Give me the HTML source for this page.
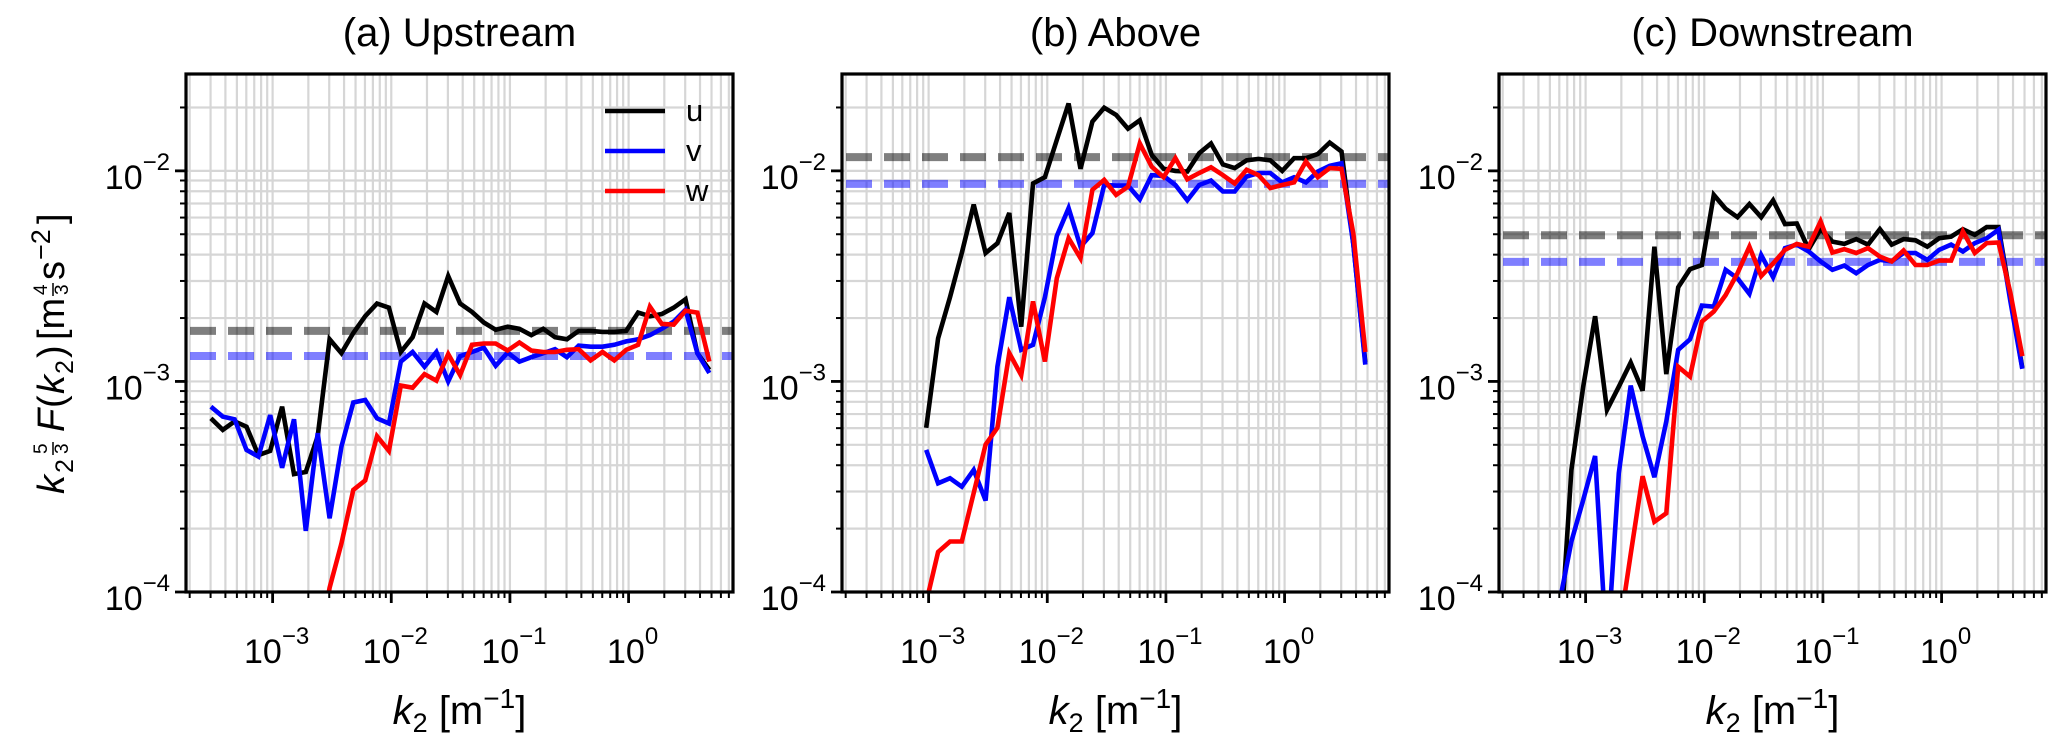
<!DOCTYPE html>
<html><head><meta charset="utf-8"><style>
html,body{margin:0;padding:0;background:#fff;}
svg{display:block;font-family:"Liberation Sans",Arial,sans-serif;}
</style></head><body>
<svg id="fig" width="2067" height="749" viewBox="0 0 2067 749" xmlns="http://www.w3.org/2000/svg">
<g transform="translate(64,334) rotate(-90)" font-size="38" fill="#000">
<text x="-160" y="0" font-style="italic">k</text>
<text x="-139" y="9" font-size="25">2</text>
<text x="-120" y="-17" font-size="19">5</text>
<line x1="-121" y1="-11" x2="-108" y2="-11" stroke="#000" stroke-width="1.5"/>
<text x="-120" y="4" font-size="19">3</text>
<text x="-98" y="0" font-style="italic">F</text>
<text x="-74" y="0">(</text>
<text x="-60" y="0" font-style="italic">k</text>
<text x="-40" y="9" font-size="25">2</text>
<text x="-24" y="0">)</text>
<text x="-6" y="0">[m</text>
<text x="39" y="-17" font-size="19">4</text>
<line x1="38" y1="-11" x2="51" y2="-11" stroke="#000" stroke-width="1.5"/>
<text x="39" y="4" font-size="19">3</text>
<text x="54" y="0">s</text>
<text x="74" y="-14" font-size="27">−2</text>
<text x="110" y="0">]</text>
</g>
</svg>
<script>
// wavenumber grid, log10(k2)
const kLog = [-3.52,-3.42,-3.32,-3.22,-3.12,-3.02,-2.92,-2.82,-2.72,-2.62,-2.52,-2.42,-2.32,-2.22,-2.12,-2.02,-1.92,-1.82,-1.72,-1.62,-1.52,-1.42,-1.32,-1.22,-1.12,-1.02,-0.92,-0.82,-0.72,-0.62,-0.52,-0.42,-0.32,-0.22,-0.12,-0.02,0.08,0.18,0.28,0.38,0.48,0.58,0.68];
// log10 of compensated spectra
const upU = [-3.175,-3.23,-3.19,-3.215,-3.35,-3.33,-3.12,-3.44,-3.43,-3.26,-2.80,-2.866,-2.77,-2.69,-2.63,-2.65,-2.86,-2.79,-2.63,-2.67,-2.50,-2.63,-2.67,-2.72,-2.755,-2.74,-2.75,-2.78,-2.75,-2.79,-2.80,-2.76,-2.76,-2.765,-2.765,-2.76,-2.673,-2.69,-2.68,-2.65,-2.61,-2.866,-2.945];
const upV = [-3.12,-3.167,-3.18,-3.325,-3.357,-3.16,-3.41,-3.18,-3.71,-3.246,-3.65,-3.31,-3.10,-3.088,-3.175,-3.20,-2.906,-2.86,-2.93,-2.86,-3.00,-2.88,-2.86,-2.84,-2.926,-2.863,-2.906,-2.885,-2.866,-2.847,-2.885,-2.83,-2.835,-2.835,-2.826,-2.81,-2.80,-2.78,-2.75,-2.716,-2.66,-2.866,-2.96];
const upW = [null,null,null,null,null,null,null,null,null,-4.3,-3.98,-3.77,-3.515,-3.47,-3.26,-3.33,-3.02,-3.03,-2.965,-2.996,-2.87,-2.97,-2.826,-2.82,-2.82,-2.853,-2.815,-2.853,-2.86,-2.86,-2.85,-2.847,-2.90,-2.86,-2.90,-2.85,-2.826,-2.645,-2.727,-2.73,-2.664,-2.673,-2.906];
const abU = [null,null,null,null,null,-3.22,-2.795,-2.60,-2.39,-2.16,-2.39,-2.344,-2.20,-2.74,-2.06,-2.03,-1.853,-1.68,-1.99,-1.766,-1.70,-1.734,-1.80,-1.76,-1.924,-1.99,-2.00,-2.003,-1.916,-1.87,-1.97,-1.987,-1.95,-1.943,-1.95,-2.00,-1.94,-1.94,-1.92,-1.866,-1.908,-2.35,-2.91];
const abV = [null,null,null,null,null,-3.325,-3.484,-3.46,-3.50,-3.42,-3.566,-2.93,-2.60,-2.85,-2.826,-2.60,-2.31,-2.177,-2.36,-2.296,-2.067,-2.07,-2.07,-2.135,-2.02,-2.024,-2.067,-2.14,-2.067,-2.046,-2.098,-2.098,-2.027,-2.01,-2.01,-2.055,-2.03,-2.055,-2.003,-1.976,-1.964,-2.35,-2.92];
const abW = [null,null,null,null,null,-4.05,-3.81,-3.76,-3.76,-3.53,-3.30,-3.22,-2.866,-2.97,-2.62,-2.906,-2.51,-2.32,-2.415,-2.09,-2.043,-2.114,-2.075,-1.87,-1.98,-2.03,-1.94,-2.04,-2.01,-1.983,-2.02,-2.06,-1.995,-2.02,-2.082,-2.067,-2.055,-1.956,-2.03,-1.987,-1.99,-2.3,-2.86];
const dnU = [null,null,null,-4.3,-3.42,-3.025,-2.69,-3.135,-3.025,-2.91,-3.044,-2.36,-2.965,-2.553,-2.467,-2.447,-2.114,-2.18,-2.22,-2.158,-2.22,-2.14,-2.253,-2.25,-2.372,-2.277,-2.336,-2.347,-2.324,-2.35,-2.277,-2.35,-2.324,-2.33,-2.36,-2.32,-2.312,-2.277,-2.304,-2.267,-2.267,-2.6,-2.936];
const dnV = [null,null,null,-4.05,-3.76,-3.563,-3.354,-4.3,-3.436,-3.02,-3.26,-3.455,-3.19,-2.85,-2.80,-2.64,-2.645,-2.47,-2.51,-2.584,-2.40,-2.505,-2.367,-2.35,-2.383,-2.43,-2.47,-2.45,-2.486,-2.447,-2.423,-2.43,-2.39,-2.39,-2.423,-2.375,-2.35,-2.383,-2.343,-2.32,-2.28,-2.62,-2.94];
const dnW = [null,null,null,null,null,null,null,null,-4.2,-3.82,-3.45,-3.666,-3.626,-2.93,-2.977,-2.716,-2.668,-2.59,-2.486,-2.36,-2.50,-2.44,-2.375,-2.347,-2.36,-2.24,-2.388,-2.372,-2.39,-2.367,-2.407,-2.43,-2.378,-2.447,-2.447,-2.426,-2.426,-2.288,-2.39,-2.343,-2.34,-2.58,-2.88];
// log10 of mean levels (dashed)
const refU = [-2.76,-1.935,-2.306];
const refV = [-2.879,-2.062,-2.432];
const titles = ["(a) Upstream","(b) Above","(c) Downstream"];
const xTickExp = [-3,-2,-1,0];
const yTickExp = [-4,-3,-2];

const NS="http://www.w3.org/2000/svg";
const svg=document.getElementById('fig');
const PL=[186,842,1499], PW=547, PT=74, PB=592;
const XMIN=-3.73, XMAX=0.88, YMIN=-4, YMAX=-1.54;
function mk(tag,attrs,parent){const e=document.createElementNS(NS,tag);for(const k in attrs)e.setAttribute(k,attrs[k]);(parent||svg).appendChild(e);return e;}
function xs(p,l){return PL[p]+(l-XMIN)/(XMAX-XMIN)*PW;}
function ys(l){return PB-(l-YMIN)/(YMAX-YMIN)*(PB-PT);}

const series=[[upU,upV,upW],[abU,abV,abW],[dnU,dnV,dnW]];
const colors=["#000000","#0000ff","#ff0000"];
const snames=["u","v","w"];
const pnames=["upstream","above","downstream"];

for(let p=0;p<3;p++){
  const g=mk('g',{});
  
  
  const cp=mk('clipPath',{id:'cp'+p},g);
  mk('rect',{x:PL[p],y:PT,width:PW,height:PB-PT},cp);
  const grid=mk('g',{stroke:'#d6d6d6','stroke-width':2.2},g);
  
  
  for(let d=-4;d<=0;d++)for(let m=1;m<10;m++){
    const l=d+Math.log10(m);
    if(l>XMIN&&l<XMAX){const x=xs(p,l);mk('line',{x1:x,x2:x,y1:PT,y2:PB},grid);}
  }
  for(let d=-4;d<=-2;d++)for(let m=1;m<10;m++){
    const l=d+Math.log10(m);
    if(l>YMIN&&l<YMAX){const y=ys(l);mk('line',{x1:PL[p],x2:PL[p]+PW,y1:y,y2:y},grid);}
  }
  const dg=mk('g',{'clip-path':'url(#cp'+p+')'},g);
  const d1=mk('line',{x1:PL[p]+4,x2:PL[p]+PW,y1:ys(refU[p]),y2:ys(refU[p]),stroke:'#000','stroke-opacity':0.5,'stroke-width':8,'stroke-dasharray':'26 12'},dg);
  
  
  const d2=mk('line',{x1:PL[p]+4,x2:PL[p]+PW,y1:ys(refV[p]),y2:ys(refV[p]),stroke:'#0000ff','stroke-opacity':0.5,'stroke-width':8,'stroke-dasharray':'26 12'},dg);
  
  
  for(let s=0;s<3;s++){
    const arr=series[p][s];let dstr='';let started=false;
    for(let i=0;i<kLog.length;i++){
      if(arr[i]===null||arr[i]===undefined){started=false;continue;}
      dstr+=(started?'L':'M')+xs(p,kLog[i]).toFixed(1)+','+ys(arr[i]).toFixed(1);started=true;
    }
    const path=mk('path',{d:dstr,fill:'none',stroke:colors[s],'stroke-width':4.6,'stroke-linejoin':'miter'},dg);
    
    
  }
  const tk=mk('g',{stroke:'#000'},g);
  for(let d=-4;d<=0;d++)for(let m=1;m<10;m++){
    const l=d+Math.log10(m);
    if(l>XMIN&&l<XMAX){const x=xs(p,l);const L=m===1?11:6;mk('line',{x1:x,x2:x,y1:PB,y2:PB+L,'stroke-width':m===1?2.8:2},tk);}
  }
  for(let d=-4;d<=-2;d++)for(let m=1;m<10;m++){
    const l=d+Math.log10(m);
    if(l>=YMIN&&l<YMAX){const y=ys(l);const L=m===1?11:6;mk('line',{x1:PL[p],x2:PL[p]-L,y1:y,y2:y,'stroke-width':m===1?2.8:2},tk);}
  }
  const sp=mk('rect',{x:PL[p],y:PT,width:PW,height:PB-PT,fill:'none',stroke:'#000','stroke-width':3.2},g);
  
  
  for(const e of xTickExp){
    const t=mk('text',{x:xs(p,e)+4,y:663,'font-size':34,'text-anchor':'middle'},g);
    
    
    const a=mk('tspan',{},t);a.textContent='10';
    const b=mk('tspan',{'font-size':24,dy:-19},t);b.textContent=(e<0?'−'+(-e):''+e);
  }
  for(const e of yTickExp){
    const t=mk('text',{x:PL[p]-16,y:ys(e)+18,'font-size':34,'text-anchor':'end'},g);
    
    
    const a=mk('tspan',{},t);a.textContent='10';
    const b=mk('tspan',{'font-size':24,dy:-19},t);b.textContent='−'+(-e);
  }
  const xl=mk('text',{x:PL[p]+PW/2,y:724,'font-size':40,'text-anchor':'middle'},g);
  
  
  const k1=mk('tspan',{'font-style':'italic'},xl);k1.textContent='k';
  const k2=mk('tspan',{'font-size':27,dy:8},xl);k2.textContent='2';
  const k3=mk('tspan',{dy:-8},xl);k3.textContent=' [m';
  const k4=mk('tspan',{'font-size':28,dy:-16},xl);k4.textContent='−1';
  const k5=mk('tspan',{dy:16},xl);k5.textContent=']';
  const tt=mk('text',{x:PL[p]+PW/2,y:46,'font-size':40,'text-anchor':'middle'},g);
  
  
  tt.textContent=titles[p];
}
const lg=mk('g',{});


for(let s=0;s<3;s++){
  const y=111+40*s;
  const ln=mk('line',{x1:605,x2:665,y1:y,y2:y,stroke:colors[s],'stroke-width':4.6},lg);
  
  
  const tx=mk('text',{x:686,y:y+10,'font-size':31},lg);
  
  
  tx.textContent=snames[s];
}
</script>
</body></html>
